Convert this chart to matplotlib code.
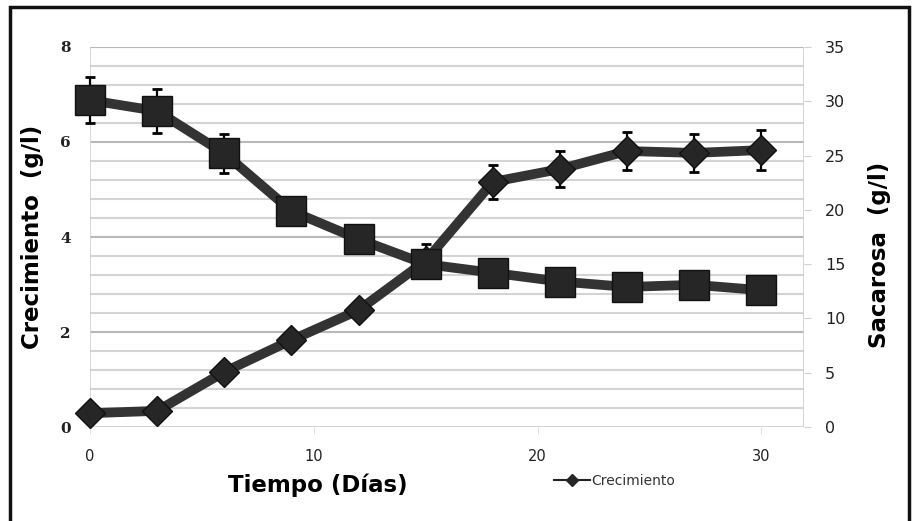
import matplotlib
matplotlib.use("Agg")
import matplotlib.pyplot as plt
from matplotlib.lines import Line2D
from matplotlib.patches import Rectangle
import numpy as np

dias = [0, 3, 6, 9, 12, 15, 18, 21, 24, 27, 30]
crecimiento = [0.29, 0.34, 1.16, 1.83, 2.46, 3.5, 5.16, 5.43, 5.81, 5.77, 5.83]
crecimiento_err = [0.1, 0.1, 0.1, 0.1, 0.1, 0.35, 0.36, 0.37, 0.4, 0.4, 0.42]
sacarosa = [30.1, 29.1, 25.2, 19.9, 17.3, 15.0, 14.2, 13.4, 12.9, 13.1, 12.6]
sacarosa_err = [2.1, 2.0, 1.8, 1.3, 1.3, 0.8, 0.8, 0.8, 0.8, 0.8, 0.8]

line_col = "#333333"
mark_col = "#262626"

fig = plt.figure(figsize=(9.14, 5.21), dpi=100)
ax = fig.add_axes([0.0985, 0.1804, 0.7811, 0.7294])
ax2 = ax.twinx()

# grid every 0.4 on the left scale
for v in np.arange(0.4, 8.01, 0.4):
    c = "#b8b8b8" if abs(v - round(v / 2) * 2) < 1e-6 else "#d4d4d4"
    ax.axhline(v, color=c, lw=1.5, zorder=0)
ax.axhline(0, color="#d4d4d4", lw=1.5, zorder=0)

ax.set_xlim(0, 31.9)
ax.set_ylim(0, 8)
ax2.set_ylim(0, 35)

# growth (left axis)
eb = ax.errorbar(dias, crecimiento, yerr=crecimiento_err, fmt="none", ecolor="black",
                 elinewidth=1.6, capsize=3.3, capthick=2, zorder=2)
for art in eb.lines[1] + eb.lines[2]:
    art.set_clip_on(False)
ax.plot(dias, crecimiento, color=line_col, lw=7, solid_joinstyle="round",
        solid_capstyle="round", zorder=3, clip_on=False)
ax.plot(dias, crecimiento, ls="none", marker="D", ms=15.5, mfc=mark_col,
        mec="#111111", mew=1, zorder=4, clip_on=False)

# sucrose (right axis)
eb2 = ax2.errorbar(dias, sacarosa, yerr=sacarosa_err, fmt="none", ecolor="black",
                   elinewidth=1.6, capsize=3.3, capthick=2, zorder=2)
for art in eb2.lines[1] + eb2.lines[2]:
    art.set_clip_on(False)
ax2.plot(dias, sacarosa, color=line_col, lw=7, solid_joinstyle="round",
         solid_capstyle="round", zorder=3, clip_on=False)
ax2.plot(dias, sacarosa, ls="none", marker="s", ms=21, mfc=mark_col,
         mec="#111111", mew=1, zorder=4, clip_on=False)

for a in (ax, ax2):
    for s in a.spines.values():
        s.set_visible(False)

ax.axvline(0, color="#cfcfcf", lw=1.2, zorder=0)
ax.axvline(31.9, color="#cfcfcf", lw=1.2, zorder=0)

ax.set_xticks([0, 10, 20, 30])
ax.set_xticklabels(["0", "10", "20", "30"], fontsize=10.5, color="#222222")
ax.tick_params(axis="x", length=5, color="#e0e0e0", pad=11)
ax.set_yticks([0, 2, 4, 6, 8])
ax.set_yticklabels(["0", "2", "4", "6", "8"], fontsize=11, fontweight="bold",
                   family="DejaVu Serif", color="#222222")
ax.tick_params(axis="y", length=0, pad=14)

ax2.set_yticks([0, 5, 10, 15, 20, 25, 30, 35])
ax2.tick_params(axis="y", length=5, color="#d0d0d0", labelsize=11.5,
                labelcolor="#222222", pad=10)

fig.text(0.036, 0.545, "Crecimiento  (g/l)", rotation=90, ha="center",
         va="center", fontsize=16.5, fontweight="bold")
fig.text(0.962, 0.51, "Sacarosa  (g/l)", rotation=90, ha="center",
         va="center", fontsize=16.5, fontweight="bold")
fig.text(0.348, 0.069, "Tiempo (Días)", ha="center", va="center",
         fontsize=16.5, fontweight="bold")

handle = Line2D([], [], color="#222222", lw=1.5, marker="D", ms=6.5,
                mfc=mark_col, mec=mark_col)
fig.legend([handle], ["Crecimiento"], loc="center left",
           bbox_to_anchor=(0.592, 0.077), frameon=False, fontsize=10,
           handlelength=2.6, handletextpad=0.1, labelcolor="#333333")

# outer frame
fig.patches.append(Rectangle((0.011, -0.01), 0.984, 0.997, transform=fig.transFigure,
                             fill=False, ec="#111111", lw=2.5))

fig.savefig("out.png", dpi=100)
